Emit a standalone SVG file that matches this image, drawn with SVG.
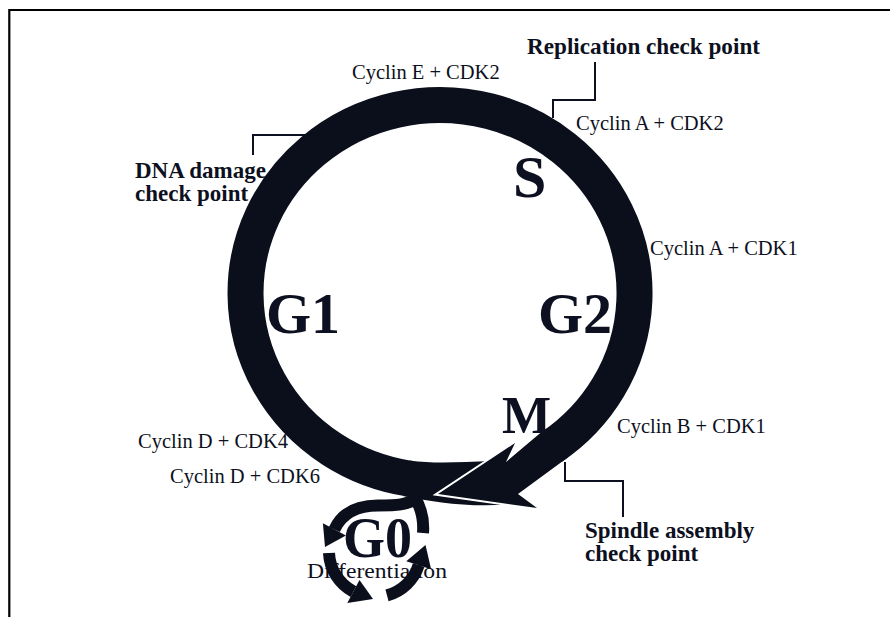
<svg xmlns="http://www.w3.org/2000/svg" width="890" height="617" viewBox="0 0 890 617">
<style>
.lbl{font-family:"Liberation Serif","Times New Roman",serif;font-size:20.5px;fill:#0d1020}
.bl{font-family:"Liberation Serif","Times New Roman",serif;font-size:23px;font-weight:bold;fill:#0d1020}
.big{font-family:"Liberation Serif","Times New Roman",serif;font-weight:bold;fill:#0d1020}
.lead{fill:none;stroke:#0d1020;stroke-width:2}
.ring{fill:none;stroke:#0b0f1c;stroke-width:36}
.g0{fill:none;stroke:#0b0f1c;stroke-width:12}
.ah{fill:#0b0f1c}
</style>
<rect width="890" height="617" fill="#ffffff"/>
<path d="M9.3 617 V10 H890" fill="none" stroke="#000" stroke-width="2.2"/>

<g id="labels">
<text class="lbl" x="352" y="79">Cyclin E + CDK2</text>
<text class="lbl" x="576" y="130">Cyclin A + CDK2</text>
<text class="lbl" x="650" y="255">Cyclin A + CDK1</text>
<text class="lbl" x="617" y="433">Cyclin B + CDK1</text>
<text class="lbl" x="138" y="448">Cyclin D + CDK4</text>
<text class="lbl" x="170" y="483">Cyclin D + CDK6</text>
</g>

<g id="checkpoint-replication">
<text class="bl" x="527" y="54" textLength="233" lengthAdjust="spacingAndGlyphs">Replication check point</text>
</g>
<g id="checkpoint-dna">
<text class="bl" x="135" y="178">DNA damage</text>
<text class="bl" x="135" y="201">check point</text>
</g>
<g id="checkpoint-spindle">
<text class="bl" x="585" y="538">Spindle assembly</text>
<text class="bl" x="585" y="561">check point</text>
</g>

<g id="G0">
<text class="big" x="343" y="557" font-size="56" textLength="69" lengthAdjust="spacingAndGlyphs">G0</text>
<text class="lbl" x="307" y="578" font-size="26" textLength="140" lengthAdjust="spacingAndGlyphs">Differentiation</text>
</g>

<g id="connectors">
<path class="lead" d="M253 155 V135 H316"/>
<path class="lead" d="M595 62 V100 H553 V118"/>
<path class="lead" d="M565 462 V481 H623 V517"/>
<!-- cell cycle ring: tail, white outline of head, body, head -->
<path class="ah" d="M403.1 495.9 C432 501.5 468 507.5 506 504.5 L492 461 C460 462 435 464 409.4 460.4 Z"/>
<polyline points="515,443 438,494 537,508" fill="none" stroke="#ffffff" stroke-width="4" stroke-linejoin="miter"/>
<path class="ring" d="M409.6 478.7 A194.5 188 0 1 1 551.6 447"/>
<polygon class="ah" points="546.2,428.8 541.2,432.3 506,462 515,443 438,494 537,508 518,494 561.9,461.8 567.9,457.5"/>
<!-- G0 loop -->
<path class="g0" d="M334.4 529.4 C342 513 357 505.5 378 505.5 C396 505.5 408 505 417 498"/>
<path class="g0" d="M423 533 C424 520 421 507 414 496"/>
<polygon class="ah" points="322.9,523.3 345.9,535.5 325,547"/>
<path class="g0" d="M329 553 A46 46 0 0 0 353.4 591.6"/>
<polygon class="ah" points="347.3,603.1 359.5,580.1 373,599"/>
<path class="g0" d="M387 595.4 A46 46 0 0 0 418.7 565.2"/>
<polygon class="ah" points="406.3,561.2 431.1,569.2 425.5,545"/>
</g>

<g id="phases">
<text class="big" x="513" y="197" font-size="60">S</text>
<text class="big" x="266" y="333" font-size="58">G1</text>
<text class="big" x="538" y="333" font-size="58">G2</text>
<text class="big" x="502" y="433" font-size="52">M</text>
</g>
</svg>
